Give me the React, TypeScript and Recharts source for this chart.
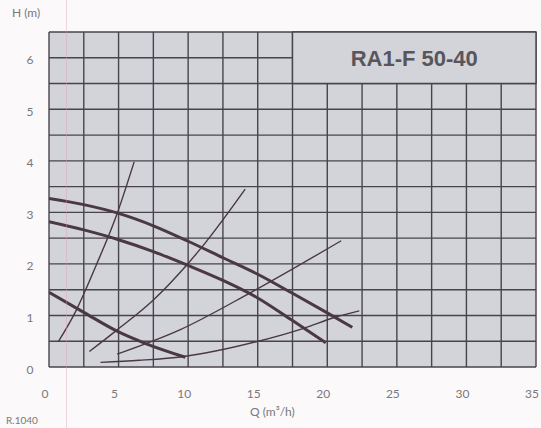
import React from 'react';
import { LineChart, Line, XAxis, YAxis, CartesianGrid, ReferenceArea } from 'recharts';

// pump curves (thick)
const pumpHigh = [
  { q: 0, h: 3.27 }, { q: 2.5, h: 3.15 }, { q: 5, h: 2.98 }, { q: 7.5, h: 2.74 },
  { q: 10, h: 2.44 }, { q: 12.5, h: 2.12 }, { q: 15, h: 1.8 }, { q: 17.5, h: 1.43 },
  { q: 20, h: 1.05 }, { q: 21.8, h: 0.77 },
];
const pumpMid = [
  { q: 0, h: 2.82 }, { q: 2.5, h: 2.66 }, { q: 5, h: 2.47 }, { q: 7.5, h: 2.24 },
  { q: 10, h: 1.97 }, { q: 12.5, h: 1.68 }, { q: 15, h: 1.34 }, { q: 17.5, h: 0.9 },
  { q: 19.9, h: 0.47 },
];
const pumpLow = [
  { q: 0, h: 1.45 }, { q: 2.5, h: 1.06 }, { q: 5, h: 0.68 }, { q: 6.9, h: 0.46 },
  { q: 9.8, h: 0.19 },
];

// system curves (thin)
const sysA = [
  { q: 0.67, h: 0.49 }, { q: 1.9, h: 1.07 }, { q: 3.4, h: 1.98 }, { q: 4.9, h: 2.98 },
  { q: 6.12, h: 3.98 },
];
const sysB = [
  { q: 2.9, h: 0.3 }, { q: 4.9, h: 0.72 }, { q: 7.5, h: 1.3 }, { q: 9.9, h: 1.98 },
  { q: 11, h: 2.33 }, { q: 14.1, h: 3.45 },
];
const sysC = [
  { q: 4.9, h: 0.25 }, { q: 9.4, h: 0.72 }, { q: 14.4, h: 1.43 }, { q: 21, h: 2.45 },
];
const sysD = [
  { q: 3.7, h: 0.09 }, { q: 6.5, h: 0.13 }, { q: 9.6, h: 0.2 }, { q: 14.9, h: 0.49 },
  { q: 18.3, h: 0.75 }, { q: 20.5, h: 0.96 }, { q: 22.3, h: 1.09 },
];

const xTicks = [0, 2.5, 5, 7.5, 10, 12.5, 15, 17.5, 20, 22.5, 25, 27.5, 30, 32.5, 35];
const yTicks = [0, 0.5, 1, 1.5, 2, 2.5, 3, 3.5, 4, 4.5, 5, 5.5, 6, 6.5];

const model = 'RA1-F 50-40';
const labelFont = 'Lato, "Open Sans", sans-serif';
const gridColor = '#48444b';
const curveColor = '#4a3940';

const XTick = (props: any) => {
  const { x, y, payload } = props;
  if (payload.value % 5 !== 0) return null;
  return (
    <text x={x - 4} y={y} textAnchor="middle" dominantBaseline="central" fontSize={12} fill="#7a787c" fontFamily={labelFont}>
      {payload.value}
    </text>
  );
};

const YTick = (props: any) => {
  const { x, y, payload } = props;
  if (payload.value % 1 !== 0 || payload.value > 6) return null;
  return (
    <text x={x} y={y + 2} textAnchor="middle" dominantBaseline="central" fontSize={12} fill="#7a787c" fontFamily={labelFont}>
      {payload.value}
    </text>
  );
};

export default function App() {
  const thin = { type: 'monotone' as const, dataKey: 'h', stroke: curveColor, strokeWidth: 1.4, dot: false, isAnimationActive: false };
  const thick = { type: 'monotone' as const, dataKey: 'h', stroke: curveColor, strokeWidth: 3, dot: false, isAnimationActive: false };
  return (
    <div style={{ position: 'fixed', left: 0, top: 0, width: 541, height: 428, background: '#fbf9fa', overflow: 'hidden' }}>
      <LineChart width={541} height={428} margin={{ top: 32, right: 5, bottom: 31, left: 0 }}>
        <CartesianGrid fill="#d3d3da" fillOpacity={1} stroke={gridColor} strokeWidth={1.4} />
        <XAxis
          type="number"
          dataKey="q"
          domain={[0, 35]}
          ticks={xTicks}
          allowDataOverflow
          axisLine={false}
          tickLine={false}
          tickSize={0}
          tickMargin={26}
          height={30}
          tick={<XTick />}
          interval={0}
        />
        <YAxis
          type="number"
          domain={[0, 6.5]}
          ticks={yTicks}
          allowDataOverflow
          axisLine={false}
          tickLine={false}
          tickSize={0}
          tickMargin={19}
          width={49}
          tick={<YTick />}
          interval={0}
        />
        <ReferenceArea
          x1={17.5}
          x2={35}
          y1={5.5}
          y2={6.5}
          fill="#d3d3da"
          fillOpacity={1}
          stroke={gridColor}
          strokeWidth={1.4}
          label={{ value: model, position: 'center', fontSize: 22, fontWeight: 'bold', fill: '#58565b', fontFamily: '"Liberation Sans", Arial, sans-serif' }}
        />
        <Line data={pumpHigh} {...thick} />
        <Line data={pumpMid} {...thick} />
        <Line data={pumpLow} {...thick} />
        <Line data={sysA} {...thin} />
        <Line data={sysB} {...thin} />
        <Line data={sysC} {...thin} />
        <Line data={sysD} {...thin} />
      </LineChart>
      <div style={{ position: 'absolute', left: 12, top: 5, fontSize: 12, color: '#7a787c', fontFamily: labelFont }}>H (m)</div>
      <div style={{ position: 'absolute', left: 250, top: 404, fontSize: 12, color: '#7a787c', fontFamily: labelFont }}>Q (m³/h)</div>
      <div style={{ position: 'absolute', left: 6, top: 414, fontSize: 10, lineHeight: '12px', color: '#7a787c', fontFamily: labelFont }}>R.1040</div>
      <div style={{ position: 'absolute', left: 66, top: 0, width: 1, height: 428, background: 'rgba(225,160,180,0.4)' }} />
    </div>
  );
}
